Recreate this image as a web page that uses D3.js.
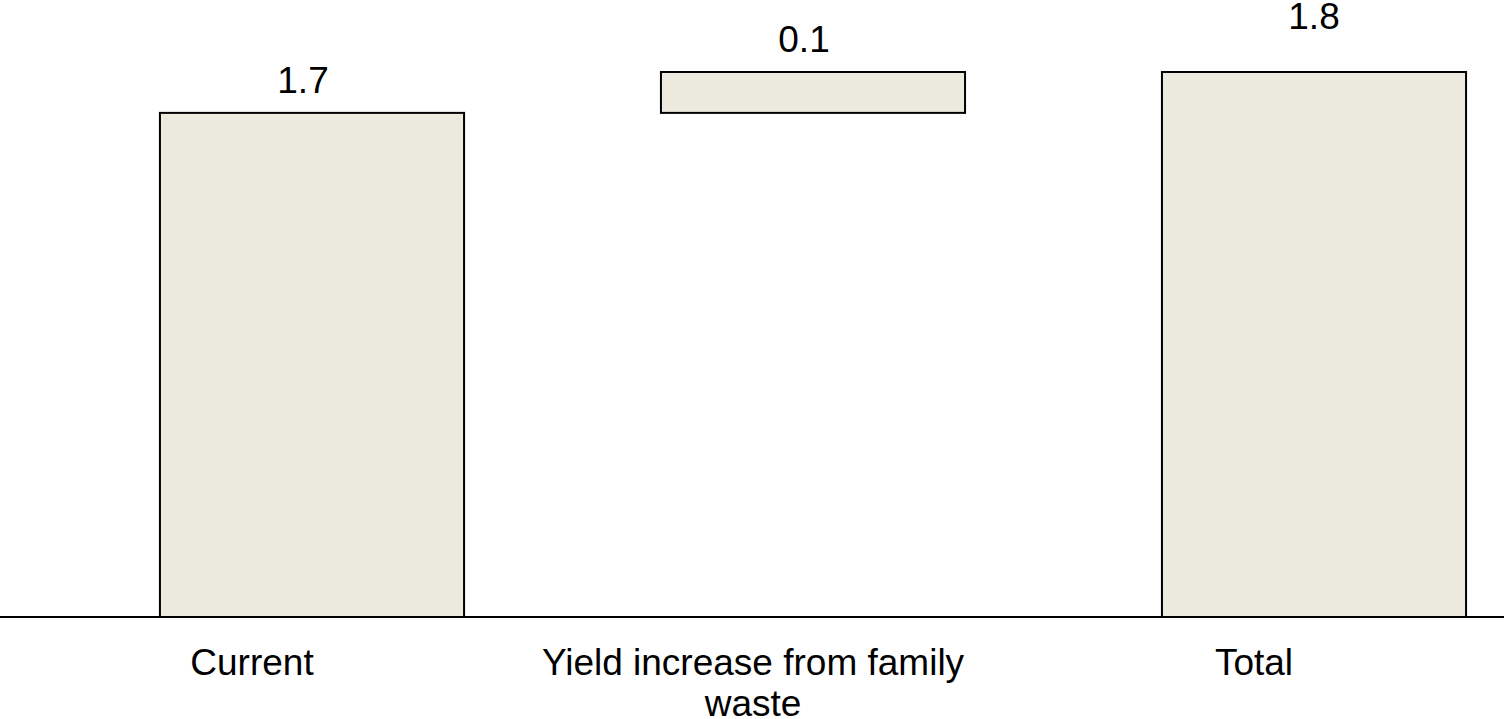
<!DOCTYPE html>
<html>
<head>
<meta charset="utf-8">
<script src="https://cdn.jsdelivr.net/npm/d3@7"></script>
<style>
  html, body { margin: 0; padding: 0; background: #fff; }
  svg { display: block; }
  text { font-family: "Liberation Sans", Arial, sans-serif; fill: #000; }
</style>
</head>
<body>
<svg id="chart" width="1504" height="719"></svg>
<script>
// Waterfall: current yield, increment from family waste, resulting total
const categories = ["Current", "Yield increase from family waste", "Total"];
const values = [1.665, 0.135, 1.8];
const kinds = ["start", "step", "total"];

// Cumulative start/end for each bar
let running = 0;
const bars = categories.map((c, i) => {
  let y0, y1;
  if (kinds[i] === "step") { y0 = running; y1 = running + values[i]; }
  else { y0 = 0; y1 = values[i]; }
  running = y1;
  return { name: c, value: values[i], kind: kinds[i], y0, y1 };
});

const W = 1504;
const baseY = 617;
const svg = d3.select("#chart");

const x = d3.scaleBand()
  .domain(categories)
  .range([61.5, 1564.5])
  .paddingInner(0.393)
  .paddingOuter(0.1965);

const y = d3.scaleLinear()
  .domain([0, 1.8])
  .range([baseY, 72]);

const fmt = d3.format(".1f");

// Bars
svg.append("g")
  .selectAll("rect")
  .data(bars)
  .join("rect")
  .attr("x", d => x(d.name))
  .attr("y", d => y(d.y1))
  .attr("width", x.bandwidth())
  .attr("height", d => y(d.y0) - y(d.y1))
  .attr("fill", "#ECE9DF")
  .attr("stroke", "#000")
  .attr("stroke-width", 2);

// Baseline axis
const axis = d3.axisBottom(x).tickSize(0).tickFormat("");
const axisG = svg.append("g")
  .attr("transform", `translate(0,${baseY})`)
  .call(axis);
axisG.select(".domain").remove();
axisG.append("line")
  .attr("x1", 0).attr("x2", W)
  .attr("stroke", "#000")
  .attr("stroke-width", 2);

// Value labels
svg.append("g")
  .selectAll("text")
  .data(bars)
  .join("text")
  .attr("x", d => x(d.name) + x.bandwidth() / 2 + (d.kind === "total" ? 0 : -9))
  .attr("y", d => y(d.y1) - (d.kind === "total" ? 43 : 20))
  .attr("text-anchor", "middle")
  .attr("font-size", 37)
  .text(d => fmt(d.value));

// Category labels, wrapped to a fixed width
function wrap(sel, width) {
  sel.each(function () {
    const t = d3.select(this);
    const words = t.text().split(/\s+/);
    const xPos = t.attr("x");
    t.text(null);
    let line = [];
    let ts = t.append("tspan").attr("x", xPos).attr("dy", 0);
    words.forEach(w => {
      line.push(w);
      ts.text(line.join(" "));
      if (ts.node().getComputedTextLength() > width && line.length > 1) {
        line.pop();
        ts.text(line.join(" "));
        line = [w];
        ts = t.append("tspan").attr("x", xPos).attr("dy", "1.12em").text(w);
      }
    });
  });
}

svg.append("g")
  .selectAll("text")
  .data(bars)
  .join("text")
  .attr("x", d => x(d.name) + x.bandwidth() / 2 - 60)
  .attr("y", 675)
  .attr("text-anchor", "middle")
  .attr("font-size", 37)
  .text(d => d.name)
  .call(wrap, 450);
</script>
</body>
</html>
